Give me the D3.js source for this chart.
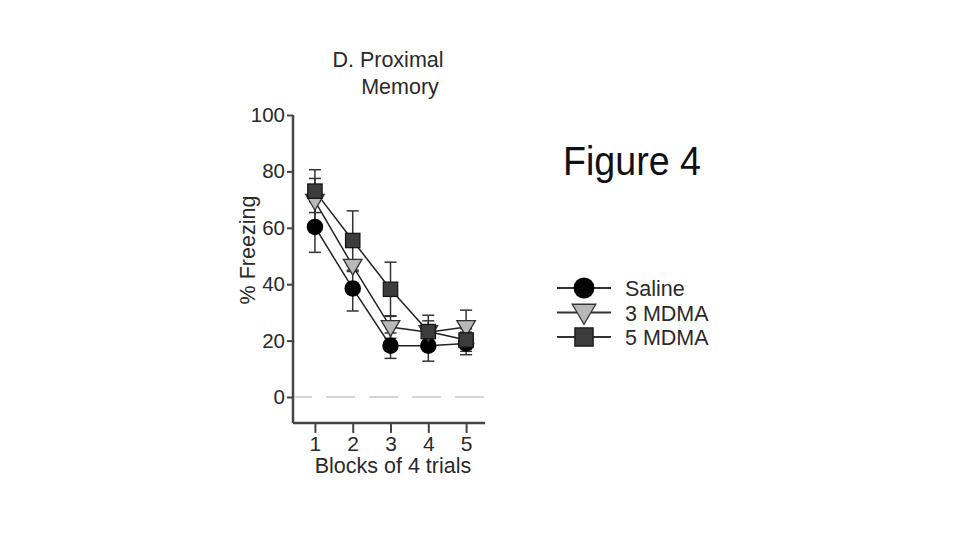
<!DOCTYPE html>
<html>
<head>
<meta charset="utf-8">
<script src="https://cdn.jsdelivr.net/npm/d3@7"></script>
<style>
  body { margin: 0; background: #fff; }
  text { font-family: "Liberation Sans", Arial, sans-serif; fill: #2a2a2a; }
</style>
</head>
<body>
<script>
var w = 960;
var h = 540;

// data
var blocks = [1, 2, 3, 4, 5];
var yTicks = [0, 20, 40, 60, 80, 100];
var seriesNames = ["Saline", "3 MDMA", "5 MDMA"];
var saline = [60.3, 38.5, 18.2, 18.2, 19];
var salineSem = [9, 8, 4.5, 5.5, 4];
var mdma3 = [69.5, 46.5, 24.8, 23, 24.8];
var mdma3Sem = [8, 2, 4, 4, 6];
var mdma5 = [73, 55.5, 38.2, 23.2, 20.2];
var mdma5Sem = [7.6, 10.5, 9.6, 5.8, 4];

var series = [
    { name: seriesNames[0], vals: saline, sem: salineSem, shape: "circle", fill: "#000" },
    { name: seriesNames[1], vals: mdma3, sem: mdma3Sem, shape: "triangle", fill: "#b8b8b8" },
    { name: seriesNames[2], vals: mdma5, sem: mdma5Sem, shape: "square", fill: "#3c3c3c" }
];

var svg = d3.select("body")
    .append("svg")
    .attr("width", w)
    .attr("height", h);

var yMin = -9.2;
var x = d3.scaleLinear().domain([0.42, 5.5]).range([293, 485]);
var y = d3.scaleLinear().domain([0, 100]).range([397, 115]);

// y axis
var yAxis = svg.append("g")
    .attr("transform", "translate(293,0)")
    .call(d3.axisLeft(y).tickValues(yTicks).tickSize(6).tickPadding(2));
yAxis.select(".domain").attr("d", "M0," + y(100) + "V" + y(yMin)).attr("stroke", "#444").attr("stroke-width", 2.5);
yAxis.selectAll(".tick line").attr("stroke", "#444").attr("stroke-width", 2);
yAxis.selectAll(".tick text").attr("font-size", 20.5).attr("font-family", "Liberation Sans, Arial, sans-serif").attr("fill", "#2a2a2a");

// x axis
var xAxis = svg.append("g")
    .attr("transform", "translate(0," + y(yMin) + ")")
    .call(d3.axisBottom(x).tickValues(blocks).tickFormat(d3.format("d")).tickSize(10).tickPadding(3));
xAxis.select(".domain").attr("d", "M293,0H485").attr("stroke", "#444").attr("stroke-width", 2.5);
xAxis.selectAll(".tick line").attr("stroke", "#444").attr("stroke-width", 2);
xAxis.selectAll(".tick text").attr("font-size", 21).attr("font-family", "Liberation Sans, Arial, sans-serif").attr("fill", "#2a2a2a");

// zero line
svg.append("line")
    .attr("x1", 295).attr("x2", 485)
    .attr("y1", y(0)).attr("y2", y(0))
    .attr("stroke", "#aaa")
    .attr("stroke-width", 1.2)
    .attr("stroke-dasharray", "29,14")
    .attr("stroke-dashoffset", 12);

// labels
svg.append("text").attr("x", 388).attr("y", 67).attr("text-anchor", "middle")
    .attr("font-size", 21.5).text("D. Proximal");
svg.append("text").attr("x", 400).attr("y", 94).attr("text-anchor", "middle")
    .attr("font-size", 21.5).text("Memory");
svg.append("text")
    .attr("transform", "translate(255,250) rotate(-90)")
    .attr("text-anchor", "middle")
    .attr("font-size", 21.5)
    .text("% Freezing");
svg.append("text").attr("x", 393).attr("y", 473).attr("text-anchor", "middle")
    .attr("font-size", 21.5).text("Blocks of 4 trials");

function drawMarker(g, shape, fill, size) {
    if (shape === "circle") {
        g.append("circle").attr("r", size * 0.55).attr("fill", fill);
    } else if (shape === "triangle") {
        var s = size * 0.62;
        g.append("path")
            .attr("d", "M" + (-s) + "," + (-s * 0.7) + "L" + s + "," + (-s * 0.7) + "L0," + (s * 1.0) + "Z")
            .attr("fill", fill).attr("stroke", "#333").attr("stroke-width", 1.3);
    } else {
        var q = size * 0.48;
        g.append("rect").attr("x", -q).attr("y", -q).attr("width", 2 * q).attr("height", 2 * q)
            .attr("fill", fill).attr("stroke", "#111").attr("stroke-width", 1.2);
    }
}

var line = d3.line()
    .x(function (d, i) { return x(blocks[i]); })
    .y(function (d) { return y(d); });

// error bars
series.forEach(function (s) {
    var g = svg.append("g").attr("stroke", "#333").attr("stroke-width", 1.5);
    s.vals.forEach(function (v, i) {
        var cx = x(blocks[i]);
        g.append("line").attr("x1", cx).attr("x2", cx).attr("y1", y(v - s.sem[i])).attr("y2", y(v + s.sem[i]));
        [v - s.sem[i], v + s.sem[i]].forEach(function (e) {
            g.append("line").attr("x1", cx - 6).attr("x2", cx + 6).attr("y1", y(e)).attr("y2", y(e));
        });
    });
});

// lines
series.forEach(function (s) {
    svg.append("path")
        .attr("d", line(s.vals))
        .attr("fill", "none")
        .attr("stroke", "#222")
        .attr("stroke-width", 1.5);
});

// markers
series.forEach(function (s) {
    s.vals.forEach(function (v, i) {
        var g = svg.append("g").attr("transform", "translate(" + x(blocks[i]) + "," + y(v) + ")");
        drawMarker(g, s.shape, s.fill, 15);
    });
});

// legend
var legend = svg.append("g");
series.forEach(function (s, i) {
    var ly = 288 + i * 24.5;
    legend.append("line").attr("x1", 557).attr("x2", 611).attr("y1", ly).attr("y2", ly)
        .attr("stroke", "#333").attr("stroke-width", 2);
    var g = legend.append("g").attr("transform", "translate(584," + ly + ")");
    drawMarker(g, s.shape, s.fill, 19);
    legend.append("text").attr("x", 625).attr("y", ly + 8).attr("font-size", 21.5).text(s.name);
});

svg.append("text")
    .attr("x", 563).attr("y", 175)
    .attr("font-family", "Open Sans, Noto Sans, sans-serif")
    .attr("font-size", 40)
    .attr("font-weight", 300)
    .attr("textLength", 138)
    .attr("lengthAdjust", "spacingAndGlyphs")
    .style("fill", "#111")
    .text("Figure 4");
</script>
</body>
</html>
